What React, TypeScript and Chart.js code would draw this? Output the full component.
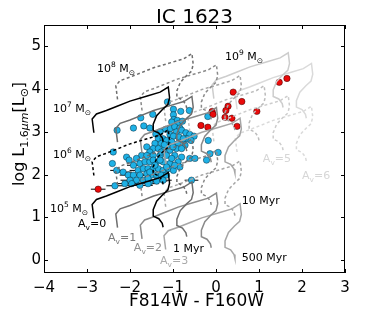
import React, { useEffect, useRef } from 'react';
import { Chart, registerables } from 'chart.js';

Chart.register(...registerables);

// ---------- axes ----------
const xTicks = [-4, -3, -2, -1, 0, 1, 2, 3];
const yTicks = [0, 1, 2, 3, 4, 5];

// ---------- model track (10^5 Msun, Av = 0) ----------
const baseTrackColor = [-2.84, -2.88, -2.78, -2.55, -2.30, -2.00, -1.60, -1.30, -1.11, -1.08, -1.12, -1.24, -1.38, -1.46, -1.46, -1.33, -1.25, -1.23];
const baseTrackLum = [0.98, 1.30, 1.42, 1.50, 1.60, 1.72, 1.84, 1.93, 2.05, 1.80, 1.64, 1.53, 1.38, 1.18, 1.03, 0.97, 0.86, 0.77];

// shift of the track for each Av (colour, luminosity)
const avShiftColor = [0, 0.55, 1.12, 1.67, 2.23, 2.79, 3.33];
const avShiftLum = [0, -0.22, -0.48, -0.73, -0.97, -1.2, -1.45];
const avLineColors = ['#000000', '#6e6e6e', '#8a8a8a', '#a6a6a6', '#bcbcbc', '#cdcdcd', '#dadada'];

// tracks that are drawn: log mass and Av
const trackMassExp = [5, 6, 7, 5, 6, 7, 8, 5, 6, 7, 8, 5, 6, 7, 8, 8, 8, 9, 8, 9];
const trackAv = [0, 0, 0, 1, 1, 1, 1, 2, 2, 2, 2, 3, 3, 3, 3, 4, 5, 5, 6, 6];

// ---------- clusters ----------
const blueX = [-1.13, -0.99, -0.82, -0.62, -1.47, -1.75, -0.99, -0.98, -0.90, -1.03, -0.88, -0.78, -1.92, -1.68, -1.54, -2.30, -1.17, -1.06, -0.96, -0.84,
  -0.92, -0.80, -0.70, -0.61, -0.51, -0.67, -1.07, -0.99, -0.86, -0.76, -1.30, -1.34, -1.23, -1.15, -1.42, -1.27, -1.03, -0.88, -0.72, -0.58,
  -1.46, -1.34, -1.19, -1.07, -0.92, -0.80, -1.61, -1.54, -1.73, -1.61, -1.46, -1.30, -1.15, -0.96, -0.80, -0.61, -0.49, -2.08, -2.02, -1.85,
  -2.39, -0.14, -0.18, -2.41, -1.92, -1.77, -1.65, -1.54, -1.38, -1.23, -1.07, -0.88, -0.84, -1.81, -1.69, -1.58, -1.46, -1.34, -1.23, -1.11,
  -0.99, -2.16, -2.04, -1.92, -1.77, -1.61, -1.50, -1.38, -1.27, -1.15, -2.31, -2.00, -1.85, -1.69, -1.54, -1.38, -1.23, -2.12, -1.96, -1.77,
  -1.58, -2.35, -0.57, -0.22, -1.58, -1.46, -1.30, -1.40, -1.11, -1.27, -1.42, -1.54, -1.03, -0.96, -0.19, 0.05, -1.15, -1.20, -1.00];
const blueY = [3.70, 3.53, 3.48, 3.50, 3.41, 3.33, 3.40, 3.29, 3.27, 3.23, 3.19, 3.25, 3.09, 3.14, 3.09, 3.04, 3.06, 3.08, 3.12, 3.09,
  3.00, 3.04, 2.98, 2.94, 2.90, 2.84, 2.94, 2.90, 2.88, 2.84, 3.00, 2.84, 2.84, 2.80, 2.73, 2.73, 2.77, 2.73, 2.69, 2.80,
  2.61, 2.61, 2.61, 2.57, 2.61, 2.61, 2.65, 2.53, 2.45, 2.45, 2.45, 2.45, 2.45, 2.45, 2.41, 2.38, 2.38, 2.41, 2.34, 2.38,
  2.53, 2.49, 2.80, 2.26, 2.22, 2.26, 2.30, 2.30, 2.30, 2.30, 2.26, 2.30, 2.18, 2.10, 2.14, 2.14, 2.14, 2.14, 2.10, 2.14,
  2.10, 2.06, 1.99, 1.99, 1.99, 2.02, 1.99, 1.99, 1.99, 1.99, 2.10, 1.87, 1.87, 1.87, 1.83, 1.85, 1.87, 1.79, 1.79, 1.75,
  1.79, 1.74, 1.87, 2.34, 1.91, 2.34, 2.34, 2.95, 2.69, 2.53, 2.22, 2.06, 2.38, 2.22, 3.36, 2.52, 2.18, 2.70, 2.65];

const redX = [0.40, 0.60, 0.28, 0.23, 0.95, -0.09, -0.07, 0.21, 0.37, 1.47, 1.65, -0.35, -0.19, 0.49, -2.74];
const redY = [3.93, 3.71, 3.60, 3.50, 3.48, 3.48, 3.41, 3.34, 3.32, 4.16, 4.25, 3.15, 3.11, 3.13, 1.66];

// horizontal error bars (centre x, y, half width)
const errX = [-2.74, -2.35, -2.12, -1.96, -2.00, -1.77, -1.58, -1.54, -1.38, -1.23, -2.04, -1.77, -1.50, -2.31, -2.16, -1.81, -1.46, -1.11, -0.57, -1.92];
const errY = [1.66, 1.74, 1.79, 1.79, 1.87, 1.75, 1.79, 1.83, 1.85, 1.87, 1.99, 1.99, 1.99, 2.10, 2.06, 2.10, 2.14, 2.14, 1.87, 2.22];
const errHalf = [0.17, 0.20, 0.25, 0.20, 0.22, 0.30, 0.25, 0.20, 0.25, 0.20, 0.20, 0.22, 0.20, 0.15, 0.20, 0.20, 0.15, 0.18, 0.16, 0.15];

// ---------- annotations ----------
const massLabelExp = ['5', '6', '7', '8', '9'];
const massLabelX = [-3.86, -3.79, -3.79, -2.77, 0.21];
const massLabelY = [1.23, 2.48, 3.56, 4.50, 4.77];

const avLabelValue = ['0', '1', '2', '3', '5', '6'];
const avLabelX = [-3.21, -2.51, -1.91, -1.30, 1.09, 2.0];
const avLabelY = [0.86, 0.54, 0.30, 0.0, 2.38, 1.99];
const avLabelColor = ['#000000', '#7a7a7a', '#8e8e8e', '#aaaaaa', '#d6d6d6', '#d6d6d6'];

const ageLabelText = ['1 Myr', '10 Myr', '500 Myr'];
const ageLabelX = [-1.0, 0.60, 0.60];
const ageLabelY = [0.29, 1.40, 0.07];

const FONT = '"DejaVu Sans", "Liberation Sans", sans-serif';

type Part = { t: string; s: number; dy?: number; it?: boolean };

function fontOf(p: Part) {
  return `${p.it ? 'italic ' : ''}${p.s}px ${FONT}`;
}

function partsWidth(ctx: CanvasRenderingContext2D, parts: Part[]) {
  let w = 0;
  for (const p of parts) {
    ctx.font = fontOf(p);
    w += ctx.measureText(p.t).width;
  }
  return w;
}

function drawParts(ctx: CanvasRenderingContext2D, parts: Part[], x: number, y: number, color: string, center = false) {
  let cx = center ? x - partsWidth(ctx, parts) / 2 : x;
  ctx.fillStyle = color;
  ctx.textAlign = 'left';
  ctx.textBaseline = 'alphabetic';
  for (const p of parts) {
    ctx.font = fontOf(p);
    ctx.fillText(p.t, cx, y + (p.dy || 0));
    cx += ctx.measureText(p.t).width;
  }
}

const decorPlugin = {
  id: 'decor',
  afterDatasetsDraw(chart: any) {
    const ctx: CanvasRenderingContext2D = chart.ctx;
    const xs = chart.scales.x;
    const ys = chart.scales.y;
    const ca = chart.chartArea;
    ctx.save();

    // mass labels
    massLabelExp.forEach((e, i) => {
      const px = xs.getPixelForValue(massLabelX[i]);
      const py = ys.getPixelForValue(massLabelY[i]) + 4;
      drawParts(ctx, [
        { t: '10', s: 11 },
        { t: e, s: 7.5, dy: -5 },
        { t: ' M', s: 11 },
        { t: '\u2299', s: 7.5, dy: 3 },
      ], px, py, '#000');
    });

    // Av labels
    avLabelValue.forEach((v, i) => {
      const px = xs.getPixelForValue(avLabelX[i]);
      const py = ys.getPixelForValue(avLabelY[i]) + 4;
      drawParts(ctx, [
        { t: 'A', s: 11 },
        { t: 'v', s: 7.5, dy: 2.5 },
        { t: '=' + v, s: 11 },
      ], px, py, avLabelColor[i]);
    });

    // age labels
    ageLabelText.forEach((t, i) => {
      const px = xs.getPixelForValue(ageLabelX[i]);
      const py = ys.getPixelForValue(ageLabelY[i]) + 4;
      drawParts(ctx, [{ t, s: 11 }], px, py, '#000');
    });

    // frame
    ctx.strokeStyle = '#000';
    ctx.lineWidth = 1;
    ctx.strokeRect(Math.round(ca.left) + 0.5, Math.round(ca.top) + 0.5, Math.round(ca.right - ca.left) - 1, Math.round(ca.bottom - ca.top) - 1);

    // inward ticks on all sides
    ctx.beginPath();
    xTicks.forEach((v) => {
      const px = Math.round(xs.getPixelForValue(v)) + 0.5;
      ctx.moveTo(px, ca.bottom);
      ctx.lineTo(px, ca.bottom - 4);
      ctx.moveTo(px, ca.top);
      ctx.lineTo(px, ca.top + 4);
    });
    yTicks.forEach((v) => {
      const py = Math.round(ys.getPixelForValue(v)) + 0.5;
      ctx.moveTo(ca.left, py);
      ctx.lineTo(ca.left + 4, py);
      ctx.moveTo(ca.right, py);
      ctx.lineTo(ca.right - 4, py);
    });
    ctx.stroke();

    // title
    drawParts(ctx, [{ t: 'IC 1623', s: 20 }], (ca.left + ca.right) / 2, 23, '#000', true);

    // x axis title
    drawParts(ctx, [{ t: 'F814W - F160W', s: 17 }], (ca.left + ca.right) / 2 + 2, 306, '#000', true);

    // y axis title (rotated)
    ctx.save();
    ctx.translate(24, 134);
    ctx.rotate(-Math.PI / 2);
    drawParts(ctx, [
      { t: 'log L', s: 16 },
      { t: '1.6', s: 11, dy: 4 },
      { t: '\u03bcm', s: 11, dy: 4, it: true },
      { t: '[L', s: 16 },
      { t: '\u2299', s: 11, dy: 4 },
      { t: ']', s: 16 },
    ], 0, 0, '#000', true);
    ctx.restore();

    ctx.restore();
  },
};

function buildDatasets() {
  const sets: any[] = [];
  // tracks (first => drawn on top)
  trackMassExp.forEach((m, i) => {
    const av = trackAv[i];
    const data = baseTrackColor.map((c, k) => ({
      x: c + avShiftColor[av],
      y: baseTrackLum[k] + (m - 5) + avShiftLum[av],
    }));
    sets.push({
      type: 'scatter',
      data,
      showLine: true,
      pointRadius: 0,
      borderColor: avLineColors[av],
      borderWidth: 1.5,
      borderDash: m % 2 === 0 ? [3, 2.5] : [],
      tension: 0,
      fill: false,
    });
  });
  sets.push({
    type: 'scatter',
    data: redX.map((x, i) => ({ x, y: redY[i] })),
    pointRadius: 3.2,
    backgroundColor: '#ea0a0a',
    borderColor: '#300',
    borderWidth: 0.5,
  });
  sets.push({
    type: 'scatter',
    data: blueX.map((x, i) => ({ x, y: blueY[i] })),
    pointRadius: 3.2,
    backgroundColor: '#1eb1e6',
    borderColor: '#0a2a3a',
    borderWidth: 0.5,
  });
  errX.forEach((x, i) => {
    sets.push({
      type: 'scatter',
      data: [{ x: x - errHalf[i], y: errY[i] }, { x: x + errHalf[i], y: errY[i] }],
      showLine: true,
      pointRadius: 0,
      borderColor: '#000',
      borderWidth: 1,
    });
  });
  return sets;
}

export default function App() {
  const ref = useRef<HTMLCanvasElement>(null);
  useEffect(() => {
    const chart = new Chart(ref.current as HTMLCanvasElement, {
      type: 'scatter',
      data: { datasets: buildDatasets() },
      options: {
        responsive: false,
        animation: false,
        devicePixelRatio: 1,
        layout: { padding: { left: 0, right: 29, top: 25, bottom: 0 } },
        plugins: { legend: { display: false }, title: { display: false }, tooltip: { enabled: false } },
        scales: {
          x: {
            type: 'linear',
            min: -4,
            max: 3,
            grid: { display: false, drawTicks: false },
            border: { display: false },
            afterBuildTicks: (s: any) => { s.ticks = xTicks.map((v) => ({ value: v })); },
            afterFit: (s: any) => { s.height = 39; },
            ticks: {
              padding: 6,
              color: '#000',
              font: { family: FONT, size: 15 },
              maxRotation: 0,
              callback: (v: any) => (v < 0 ? '\u2212' + Math.abs(v) : String(v)),
            },
          },
          y: {
            type: 'linear',
            min: -0.3,
            max: 5.5,
            grid: { display: false, drawTicks: false },
            border: { display: false },
            afterBuildTicks: (s: any) => { s.ticks = yTicks.map((v) => ({ value: v })); },
            afterFit: (s: any) => { s.width = 44; },
            ticks: {
              padding: 3,
              color: '#000',
              font: { family: FONT, size: 15 },
              callback: (v: any) => String(v),
            },
          },
        },
      } as any,
      plugins: [decorPlugin],
    });
    return () => chart.destroy();
  }, []);
  return (
    <div style={{ position: 'fixed', left: 0, top: 0, width: 374, height: 312, background: '#fff' }}>
      <canvas ref={ref} width={374} height={312} style={{ display: 'block' }} />
    </div>
  );
}
